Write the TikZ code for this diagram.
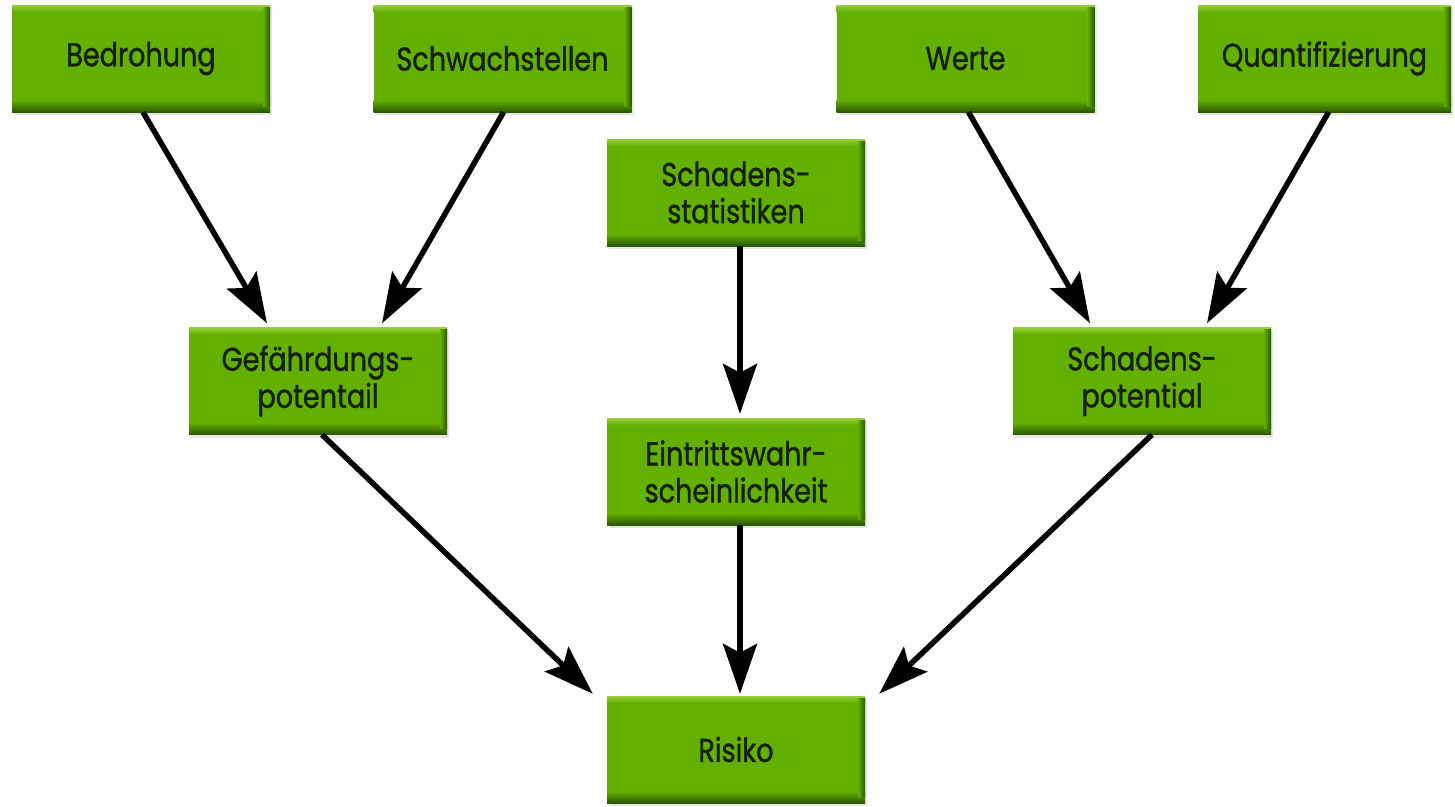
\documentclass[tikz,border=0pt]{standalone}
\usepackage{fontspec}
\setmainfont[FakeStretch=0.82,FakeBold=1.2]{Poppins}
\usetikzlibrary{arrows.meta,shadows}
\definecolor{gmain}{RGB}{100,176,0}
\definecolor{glight}{RGB}{150,206,60}
\definecolor{gdark}{RGB}{40,88,0}
\definecolor{gtext}{RGB}{20,32,0}
\tikzset{
  gbox/.style={minimum width=258pt, minimum height=107pt, inner sep=0pt,
    align=center, text=gtext, font=\fontsize{33}{37}\selectfont,
    drop shadow={opacity=0.2, shadow xshift=2pt, shadow yshift=-3pt},
    path picture={
      \fill[gmain] (path picture bounding box.south west) rectangle (path picture bounding box.north east);
      \shade[top color=glight, bottom color=gmain] (path picture bounding box.north west) rectangle ([yshift=-7pt]path picture bounding box.north east);
      \shade[top color=gmain, bottom color=gdark] ([yshift=12pt]path picture bounding box.south west) rectangle (path picture bounding box.south east);
      \shade[left color=gmain, right color=gdark] ([xshift=-7pt,yshift=-2pt]path picture bounding box.north east) rectangle ([yshift=6pt]path picture bounding box.south east);
    }},
  arr/.style={line width=5.5pt, -{Stealth[length=50pt,width=34pt,inset=9pt]}}
}
\begin{document}
\begin{tikzpicture}[x=1pt,y=-1pt]
\useasboundingbox (0,0) rectangle (1455,806);
\node[gbox] (bed) at (141,58.5) {Bedrohung};
\node[gbox] (schw) at (502.5,58.5) {Schwachstellen};
\node[gbox] (wert) at (965.5,58.5) {Werte};
\node[gbox, minimum width=253pt] (quant) at (1324.5,58.5) {Quantifizierung};
\node[gbox] (stat) at (736,192.5) {Schadens-\\statistiken};
\node[gbox] (gef) at (318,381) {Gefährdungs-\\potentail};
\node[gbox] (eint) at (736,471.5) {Eintrittswahr-\\scheinlichkeit};
\node[gbox] (spot) at (1142,381) {Schadens-\\potential};
\node[gbox] (ris) at (736,749.5) {Risiko};
\draw[arr] ([xshift=2pt]bed.south) -- ([xshift=-51pt,yshift=4pt]gef.north);
\draw[arr] ([xshift=1pt]schw.south) -- ([xshift=64pt,yshift=4pt]gef.north);
\draw[arr] ([xshift=3pt]wert.south) -- ([xshift=-52pt,yshift=4pt]spot.north);
\draw[arr] ([xshift=4pt]quant.south) -- ([xshift=65pt,yshift=4pt]spot.north);
\draw[arr] ([xshift=4pt]stat.south) -- ([xshift=4pt,yshift=4pt]eint.north);
\draw[arr] ([xshift=4pt]gef.south) -- ([xshift=-14pt,yshift=2pt]ris.north west);
\draw[arr] ([xshift=4pt]eint.south) -- ([xshift=4pt,yshift=2pt]ris.north);
\draw[arr] ([xshift=10pt]spot.south) -- ([xshift=14pt,yshift=2pt]ris.north east);
\end{tikzpicture}
\end{document}
